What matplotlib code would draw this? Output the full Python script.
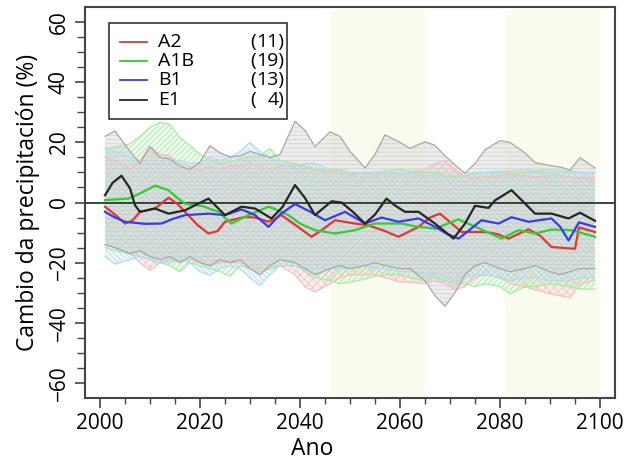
import matplotlib
matplotlib.use('Agg')
import matplotlib.pyplot as plt
from matplotlib.patches import Rectangle
from matplotlib.lines import Line2D
from matplotlib.ticker import MultipleLocator

plt.rcParams['font.family'] = ['Open Sans', 'DejaVu Sans']
plt.rcParams['hatch.linewidth'] = 0.5

# ---------------- data ----------------
scenarios = ['A2', 'A1B', 'B1', 'E1']
model_counts = [11, 19, 13, 4]

band_years = [2001, 2003, 2006, 2008, 2010, 2012, 2014, 2016, 2018, 2020,
              2022, 2024, 2026, 2028, 2030, 2032, 2034, 2036, 2039, 2041,
              2043, 2046, 2048, 2050, 2053, 2055, 2057, 2060, 2062, 2065,
              2067, 2069, 2071, 2073, 2075, 2077, 2080, 2082, 2085, 2087,
              2090, 2092, 2094, 2096, 2099]

a2_upper = [15, 14, 11, 14, 18.5, 16, 15.5, 13, 12, 11,
            12, 11, 12, 12, 13, 12, 11, 12, 13, 12,
            11, 10, 11, 9, 10, 9, 10, 9, 10, 11,
            13, 14, 11, 8.5, 8, 8.5, 9, 9.5, 9, 8.5,
            9, 9, 8.5, 8, 8]
a2_lower = [-14, -15, -17, -20, -22.6, -20, -19, -19, -19, -20,
            -21, -20, -20, -20, -21, -22, -22, -21, -24, -28,
            -29.8, -27, -25, -24, -24, -24, -25, -26.4, -26.5, -27,
            -26, -27, -29, -28, -25, -24, -25, -27, -28, -29,
            -30.3, -31, -31.7, -27, -26]

a1b_upper = [18, 18.5, 19.5, 22, 25, 26.7, 26, 21.5, 19, 16,
             14, 13, 13.5, 14.5, 15, 15.5, 18, 14, 13, 12,
             11, 10.5, 10, 9.5, 10, 10, 10.5, 11, 10.5, 10,
             10, 9, 8.5, 9, 9.5, 10, 10.5, 10, 10, 10.5,
             11, 10.5, 10.5, 10, 10]
a1b_lower = [-15, -16, -17, -18, -19, -20, -21, -23, -20, -21,
             -22, -23, -24.5, -21, -22, -23, -22, -21, -21, -23,
             -25, -26, -27, -26.5, -25.5, -24.5, -24, -24, -25, -26,
             -25, -26, -27, -27, -28, -27, -28, -30.3, -28, -28,
             -27, -27.5, -28, -28.8, -28.8]

b1_upper = [18, 17, 15, 14, 13, 13, 14, 14, 13, 13,
            15, 14, 15, 17, 20, 17, 15, 13, 12, 13,
            13, 11, 11, 10, 10, 10, 10, 10, 10, 9,
            9, 9, 9, 9, 10, 10, 10, 10.5, 11, 10.5,
            10, 10, 10, 10, 10]
b1_lower = [-18, -20.5, -19, -18, -19, -20, -20, -19, -20, -23,
            -24.2, -22, -21, -22, -25, -27.6, -24, -21, -21, -22,
            -22, -22, -22, -22, -21, -22, -22, -23, -23, -24,
            -24, -25, -26, -25, -24, -24, -25, -26, -25, -25,
            -26, -26, -26, -25, -25]

e1_upper = [22, 23.8, 17, 13, 18.6, 15, 14.5, 12, 11, 13.5,
            18.9, 16.5, 15.2, 15.5, 17, 16, 15, 16, 27, 24,
            18.6, 23.5, 22, 17, 11.5, 16, 22.5, 20, 18, 20.2,
            19, 15.5, 12.5, 9.7, 13, 17.5, 20.6, 20, 16.5, 13.3,
            12.3, 11.8, 10.8, 14.9, 11.5]
e1_lower = [-14, -15, -17, -16, -18, -19, -18, -20, -18, -20,
            -21, -19, -20, -19, -22, -24, -21, -19, -20, -22,
            -24, -22, -21, -22, -21, -20, -21, -22, -22, -26,
            -31, -34.5, -30, -24, -21, -20, -22, -23, -22, -21,
            -23, -24, -23, -22, -22]

a2_years = [2001, 2003, 2005, 2006.5, 2008, 2011, 2013.7, 2015.5, 2017, 2019.5,
            2021.7, 2023.5, 2025, 2029, 2031, 2033.7, 2036.3, 2039.5, 2042.3, 2044.5,
            2047, 2051, 2053.7, 2057, 2059.7, 2063.7, 2066, 2068, 2070, 2072.3,
            2077, 2079.5, 2081.7, 2085.7, 2088, 2090.3, 2095, 2095.8, 2099]
a2_mean = [-1.4, -4, -7, -6, -3.1, -2, 1.6, -0.5, -3.1, -7.5,
           -10.3, -9.5, -6.4, -4.8, -5, -6.4, -4.2, -8, -11.4, -9,
           -5.9, -7, -7.6, -9.5, -11.4, -8.1, -5, -3.7, -6.5, -9.8,
           -9.8, -10.5, -12, -8.9, -11, -14.8, -15.4, -8.3, -9.8]

a1b_years = [2001, 2005.7, 2008, 2011, 2013.7, 2015.5, 2017, 2020.3, 2023.7, 2026.3,
             2029.7, 2033.7, 2035.5, 2037.7, 2040, 2043, 2047, 2051, 2055, 2060.3,
             2063.7, 2065, 2067, 2071.7, 2077, 2080.3, 2083.7, 2087, 2090.3, 2094.3,
             2099]
a1b_mean = [0.8, 1.3, 3, 5.6, 4.1, 1.5, -0.4, -1.1, -3.1, -7,
            -4.2, -1.4, -2.5, -4.2, -7, -9.2, -10.3, -9.2, -7, -7,
            -8.1, -8.3, -8.7, -5.6, -9.5, -12, -9.2, -10.3, -9, -9.2,
            -11.4]

b1_years = [2001, 2003, 2005, 2009, 2012.3, 2014.5, 2017, 2021.7, 2025, 2028.3,
            2031, 2033.7, 2036, 2039, 2042, 2045, 2049, 2053, 2056.3, 2059.7,
            2063.7, 2067, 2069.5, 2071.7, 2074, 2076.3, 2079.7, 2082.3, 2085.7, 2090.3,
            2092, 2093.7, 2095.8, 2099]
b1_mean = [-3.1, -5, -6.4, -7.1, -7, -5.5, -4.2, -3.7, -4.2, -2.3,
           -4.2, -8.1, -4, -0.5, -3, -5.9, -3.1, -7, -5, -6.4,
           -5.3, -8.1, -10.5, -12, -9, -5.9, -7, -4.9, -6.4, -5.3,
           -8, -12.6, -6.6, -8.1]

e1_years = [2001, 2002.5, 2004.3, 2006, 2007, 2008, 2011, 2013.7, 2017, 2019.5,
            2021.7, 2025, 2028.3, 2031, 2034.3, 2036.5, 2039, 2041, 2043, 2046.3,
            2048.3, 2050.5, 2053, 2055, 2057.3, 2059, 2061, 2063.7, 2067, 2070.7,
            2073, 2075, 2077.7, 2079, 2082.3, 2084.5, 2087, 2090.3, 2093.7, 2096,
            2099]
e1_mean = [2.4, 6.5, 8.9, 4.7, -0.9, -3.1, -2, -3.7, -2.6, -0.5,
           1.3, -4.2, -1.4, -2, -5.3, -1.5, 5.8, 1.5, -4.2, 0.4,
           0, -3, -7, -4, 1.3, -1, -3.1, -3.1, -7, -12,
           -7, -1.1, -1.8, 0.7, 4.1, 0.5, -3.7, -3.7, -5.3, -3.4,
           -6.1]

periods = [(2046, 2065), (2081, 2100)]

# ---------------- styles ----------------
line_colors = ['#e53535', '#33cc33', '#3a3ae6', '#262626']
band_face = [(0.97, 0.82, 0.82, 0.35), (0.82, 0.96, 0.82, 0.35),
             (0.82, 0.91, 0.97, 0.35), (0.84, 0.84, 0.84, 0.45)]
band_hatch_col = [(0.95, 0.65, 0.65, 0.7), (0.52, 0.87, 0.52, 0.75),
                  (0.58, 0.80, 0.93, 0.7), (0.74, 0.74, 0.74, 0.55)]
band_edge = ['#f4c0c0', '#a8eaa8', '#b4dbf0', '#a8a8a8']
hatches = ['xxxx', '//////', '\\\\\\\\\\\\', '----']

uppers = [a2_upper, a1b_upper, b1_upper, e1_upper]
lowers = [a2_lower, a1b_lower, b1_lower, e1_lower]
line_x = [a2_years, a1b_years, b1_years, e1_years]
line_y = [a2_mean, a1b_mean, b1_mean, e1_mean]

fig = plt.figure(figsize=(6.25, 4.68), dpi=100)
ax = fig.add_axes([0.136, 0.1496, 0.848, 0.8354])

for (s, e) in periods:
    ax.axvspan(s, e, ymin=0.005, ymax=0.992, color='#f9fbee', lw=0, zorder=0)

for i in range(4):
    ax.fill_between(band_years, lowers[i], uppers[i], facecolor=band_face[i],
                    edgecolor=band_hatch_col[i], hatch=hatches[i], linewidth=0,
                    zorder=1 + i * 0.1)
    ax.plot(band_years, uppers[i], color=band_edge[i], lw=0.9, zorder=1.5)
    ax.plot(band_years, lowers[i], color=band_edge[i], lw=0.9, zorder=1.5)

ax.axhline(0, color='#333333', lw=1.3, zorder=2)

for i in range(4):
    ax.plot(line_x[i], line_y[i], color=line_colors[i], lw=1.6, zorder=3)

ax.set_xlim(1997, 2103)
ax.set_ylim(-65, 65)
ax.xaxis.set_major_locator(MultipleLocator(20))
ax.xaxis.set_minor_locator(MultipleLocator(5))
ax.set_yticks([-60, -40, -20, 0, 20, 40, 60])
ax.set_yticks(list(range(-60, 61, 5)), minor=True)
ax.tick_params(axis='both', which='major', direction='out', length=7, width=1.2,
               color='#444444', labelsize=15, pad=4)
ax.tick_params(axis='x', which='minor', direction='out', length=4, width=1.0, color='#444444')
ax.tick_params(axis='y', which='minor', direction='out', length=6, width=1.0, color='#444444')
for lab in ax.get_yticklabels():
    lab.set_rotation(90)
    lab.set_va('center')
for sp in ax.spines.values():
    sp.set_color('#444444')
    sp.set_linewidth(1.5)

ax.set_xlabel('Ano', fontsize=16.5, x=0.428, labelpad=2)
ax.set_ylabel('Cambio da precipitación (%)', fontsize=16.5, labelpad=6)

# legend box drawn manually
leg_x0, leg_x1 = (109 - 85) / 530, (287 - 85) / 530
leg_y0, leg_y1 = (398 - 119) / 391, (398 - 22.7) / 391
ax.add_patch(Rectangle((leg_x0, leg_y0), leg_x1 - leg_x0, leg_y1 - leg_y0,
                       transform=ax.transAxes, facecolor='white', edgecolor='#333333',
                       lw=1.2, zorder=5))
row_px = [41.7, 61, 80.3, 99.7]
for i, (name, cnt) in enumerate(zip(scenarios, model_counts)):
    yy = (398 - row_px[i]) / 391
    ax.add_line(Line2D([(120 - 85) / 530, (147 - 85) / 530], [yy, yy],
                       transform=ax.transAxes, color=line_colors[i], lw=1.3, zorder=6))
    ax.text((158 - 85) / 530, yy, name, transform=ax.transAxes, fontsize=14,
            va='center', ha='left', zorder=6)
    ax.text((250 - 85) / 530, yy, '(', transform=ax.transAxes, fontsize=14,
            va='center', ha='left', zorder=6)
    ax.text((284 - 85) / 530, yy, '%d)' % cnt,
            transform=ax.transAxes, fontsize=14, va='center', ha='right', zorder=6)

fig.savefig('out.png', dpi=100)
